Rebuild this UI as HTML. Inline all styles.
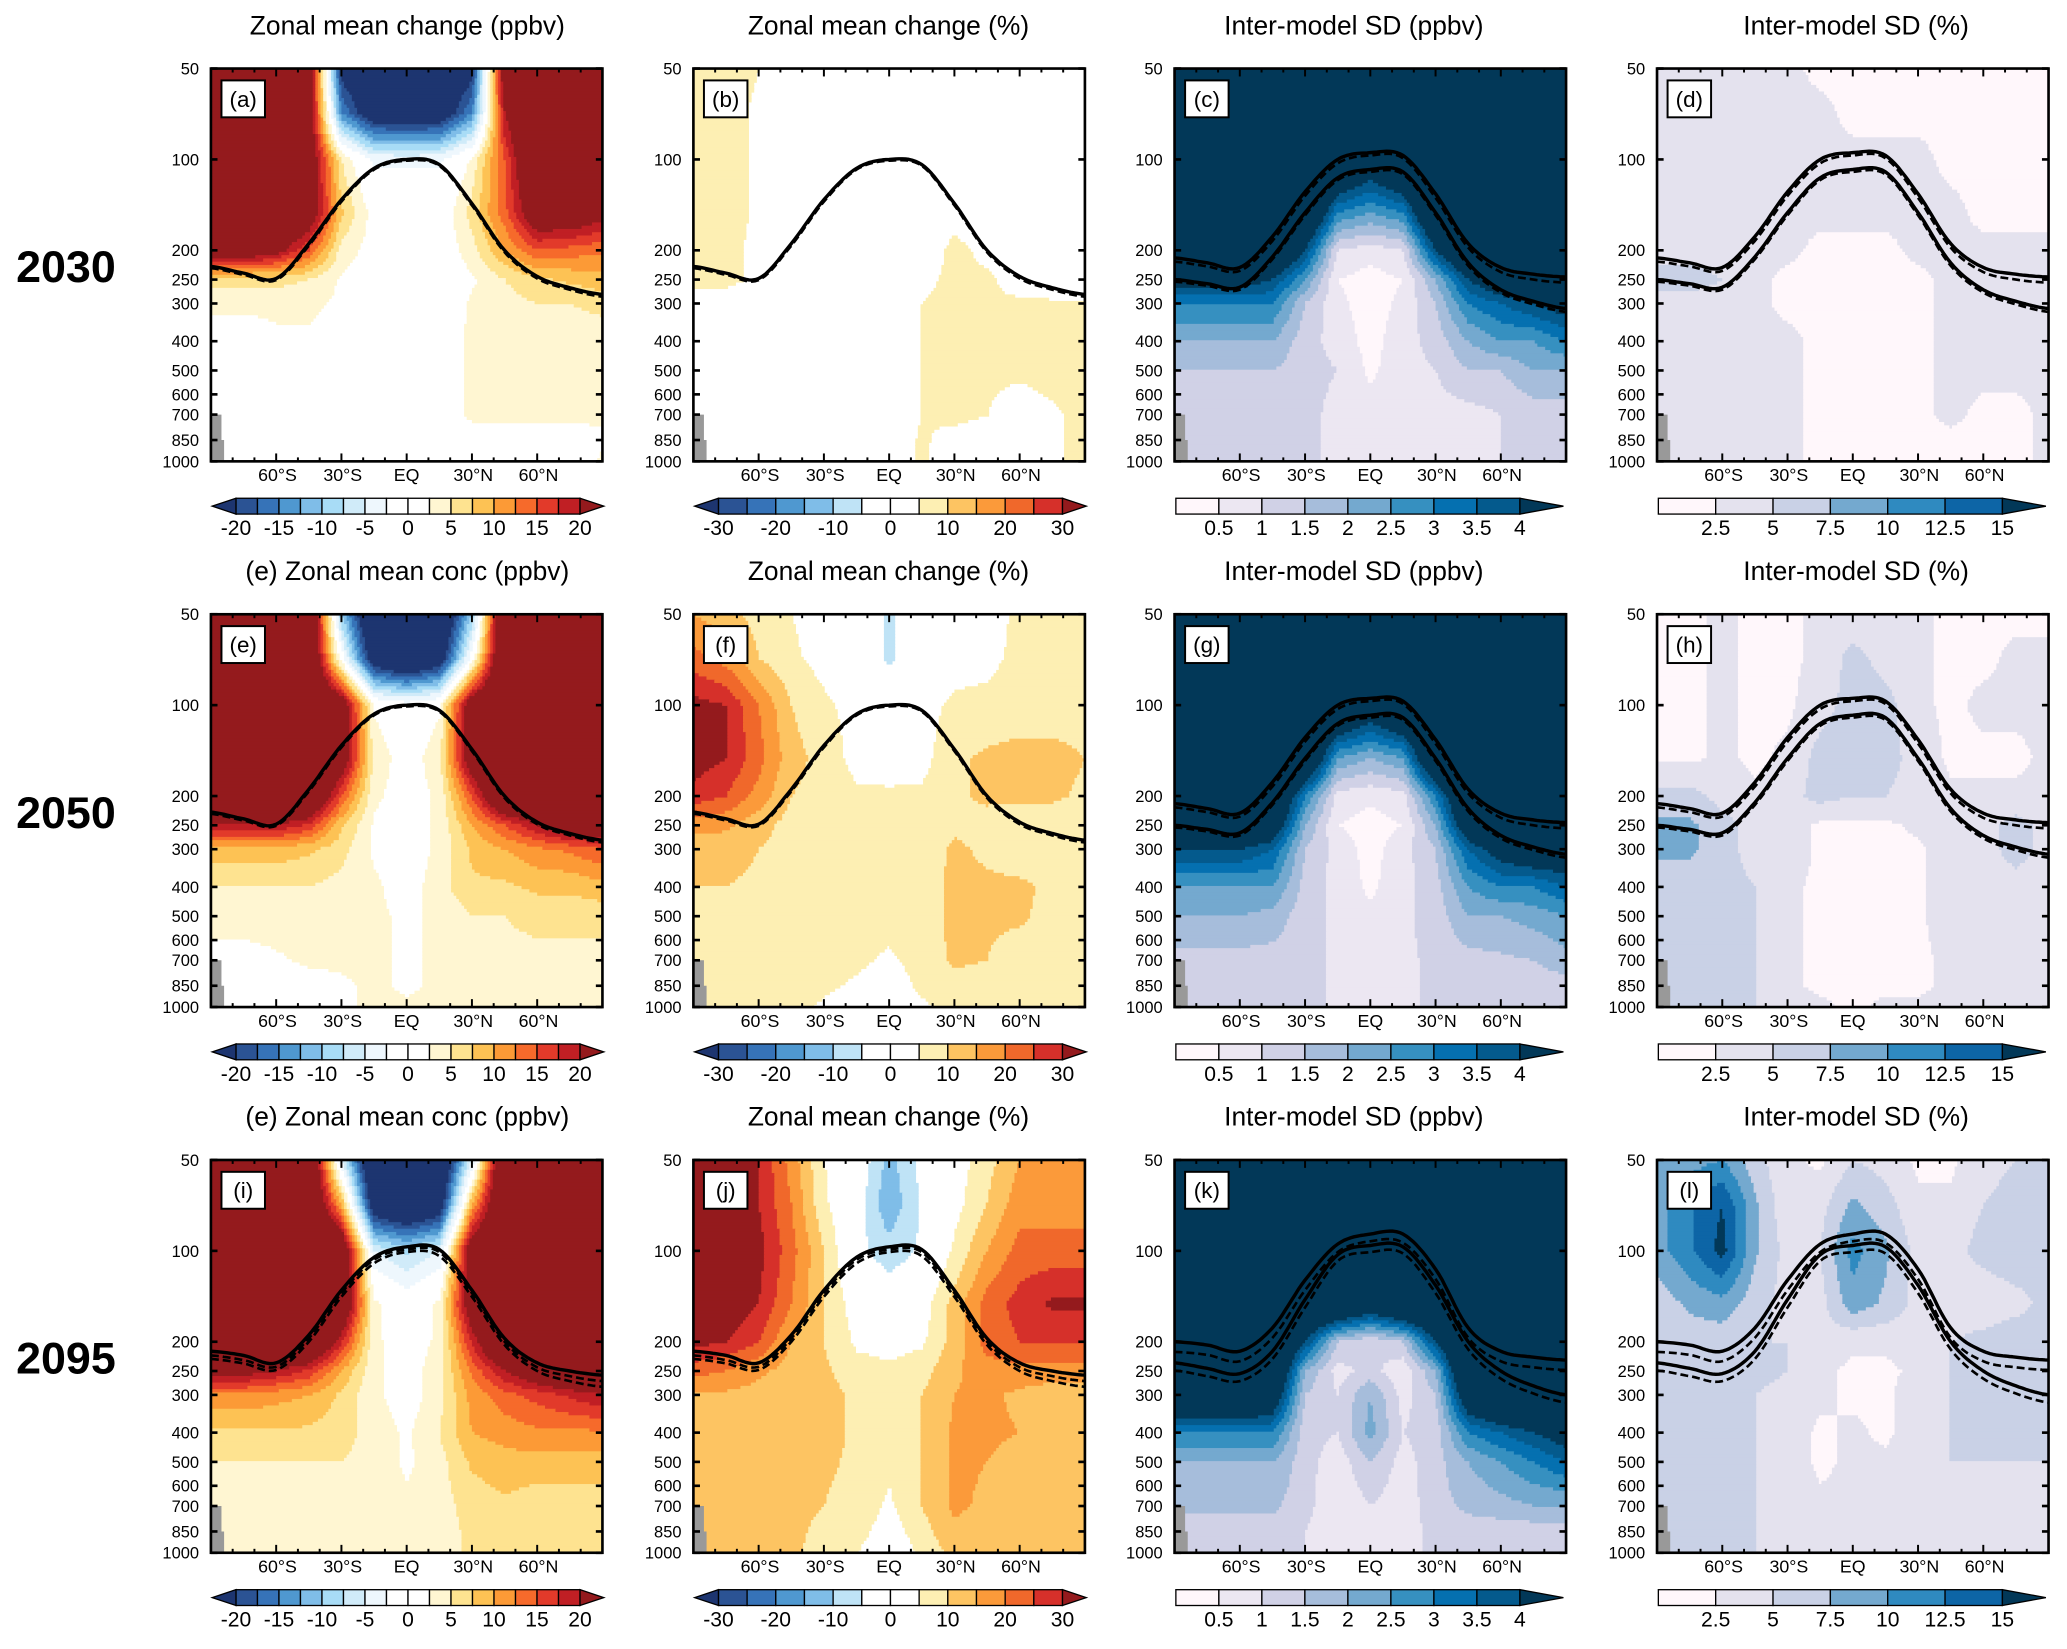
<!DOCTYPE html>
<html><head><meta charset="utf-8"><title>Zonal mean ozone change panels</title>
<style>
html,body{margin:0;padding:0;background:#fff;}
svg{display:block;font-family:"Liberation Sans",Arial,sans-serif;}
</style></head>
<body>
<svg id="fig" width="2067" height="1649" viewBox="0 0 1568 1251" preserveAspectRatio="none" xmlns="http://www.w3.org/2000/svg">
<rect x="0" y="0" width="1568" height="1251" fill="#fff"/>
</svg>
<script>
// ---------- data ----------
const lats = [-90,-75,-60,-45,-30,-15,0,15,30,45,60,75,90];
const levels = [50,70,100,150,200,250,300,400,500,700,850,1000];
const yTickLabels = [50,100,200,250,300,400,500,600,700,850,1000];
const xTickLats = [-60,-30,0,30,60];
const xTickLabels = ['60°S','30°S','EQ','30°N','60°N'];
const years = ['2030','2050','2095'];
const cbTicksPpbv = [-20,-15,-10,-5,0,5,10,15,20];
const cbTicksPct = [-30,-20,-10,0,10,20,30];
const cbTicksSd = [0.5,1,1.5,2,2.5,3,3.5,4];
const cbTicksSdPct = [2.5,5,7.5,10,12.5,15];

const fieldA = [
[30,30,30,25,-22,-28,-28,-28,-22,25,30,30,30],
[30,30,30,25,-15,-25,-26,-25,-15,20,30,30,30],
[30,30,30,25,5,-3,-3,-3,3,15,30,30,30],
[30,30,30,25,8,1,0,0,6,14,25,25,22],
[25,25,22,15,4,1,0,0,4,10,15,14,13],
[6,6,6,5,2,0,0,0,2,5,7,8,9],
[3,3,3,3,2,0,0,0,3,4,5,5,6],
[1,1,2,2,1,0,0,1,3,3,3,3,3],
[0,0,0,0,0,0,0,1,3,3,3,3,3],
[0,0,0,0,0,0,0,1,3,3,3,3,3],
[0,0,0,0,0,0,0,0,1,1,1,1,2],
[0,0,0,0,0,0,0,0,1,0,0,0,3]];
const fieldB = [
[7,7,5,0,0,0,0,0,0,0,0,0,0],
[7,7,4,0,0,0,0,0,0,0,0,0,0],
[7,7,4,0,0,0,0,0,0,0,0,0,0],
[7,7,4,0,0,0,0,0,2,0,0,0,0],
[7,6,4,2,0,0,0,0,7,3,0,0,0],
[6,6,4,3,0,0,0,3,7,6,2,0,0],
[3,3,0,0,0,0,0,5,7,6,6,6,6],
[0,0,0,0,0,0,0,5,7,6,5,7,7],
[0,0,0,0,0,0,0,5,7,6,6,7,7],
[0,0,0,0,0,0,0,5,7,5,2,4,7],
[0,0,0,0,0,0,0,6,2,0,0,4,7],
[0,0,0,0,0,0,0,6,0,0,0,4,7]];
const fieldC = [
[6,6,6,6,6,6,6,6,6,6,6,6,6],
[6,6,6,6,6,6,6,6,6,6,6,6,6],
[6,6,6,6,6,6,5,6,6,6,6,6,6],
[6,6,6,6,6,3,2.5,3,6,6,6,6,6],
[6,6,6,6,4,1,0.7,1,4,6,6,6,6],
[4.5,4.5,4.5,4,2.5,0.5,0.3,0.5,2,4,5,5,5],
[3,3,3,3,1.5,0.6,0.3,0.6,1.5,3,3.5,4,4.5],
[2,2,2,2,1.2,0.8,0.3,0.8,1.2,2,2.5,2.5,3],
[1.5,1.5,1.5,1.5,1.2,1,0.4,0.8,1,1.5,1.5,2,2],
[1.2,1.2,1.2,1.2,1.2,0.8,0.7,0.8,0.8,0.8,1,1.2,1.2],
[1.2,1.2,1.2,1.2,1.2,0.8,0.8,0.7,0.7,0.8,1,1,1.2],
[1.2,1.2,1.2,1.2,1.2,0.8,0.8,0.7,0.7,0.8,1,1,1.2]];
const fieldD = [
[3,3,3,3,3,2,2,2,2,2,2,2,2],
[3,3,3,3,3,3,2,2,2,2,2,2,2],
[3,3,3,3,3,3,3,3,3,2,2,2,2],
[3,3,3,3,3,3,3,3,3,3,2,2,2],
[4,4,4,3,3,2,2,2,3,3,3,3,3],
[6,6,5,3,2,2,2,2,2,3,3,3,3],
[4,4,4,3,2,2,2,2,2,3,3,3,3],
[3,3,3,3,3,2,2,2,2,3,3,3,3],
[3,3,3,3,3,2,2,2,2,3,3,3,3],
[3,3,3,3,3,2,2,2,2,3,2,2,3],
[3,3,3,3,3,2,2,2,2,2,2,2,3],
[3,3,3,3,3,2,2,2,2,2,2,2,3]];
const fieldE = [
[30,30,30,30,-10,-30,-30,-30,-10,30,30,30,30],
[30,30,30,30,0,-25,-30,-25,0,30,30,30,30],
[30,30,30,30,25,2,0,2,25,30,30,30,30],
[30,30,30,30,25,4,1,4,25,30,30,30,30],
[30,30,30,30,15,3,1,3,15,30,30,30,30],
[20,20,20,17,8,2,1,3,10,15,20,25,25],
[9,9,9,8,6,2,1,3,8,10,12,13,15],
[5,5,5,5,4,3,1,4,7,7,8,8,9],
[4,4,4,4,4,3,2,3,5,5,6,6,6],
[1,1,2,3,3,3,2,3,4,4,4,4,4],
[0,0,0,1,2,3,2,3,3,3,3,3,3],
[0,0,0,1,2,3,3,3,3,3,3,3,3]];
const fieldF = [
[15,12,8,5,2,0,-6,0,3,3,6,6,6],
[22,18,10,6,3,0,-6,0,3,4,6,6,6],
[32,30,20,10,6,3,2,3,6,6,7,7,7],
[33,30,22,12,8,3,2,3,9,11,12,12,10],
[28,25,18,10,8,6,6,6,9,11,11,11,9],
[17,16,12,8,7,7,7,7,9,8,7,7,7],
[12,12,10,8,7,7,7,7,11,9,7,7,7],
[10,10,9,7,7,7,7,8,11,11,11,9,7],
[7,7,7,7,7,7,7,8,11,11,11,8,7],
[7,7,7,7,7,6,4,7,11,10,7,7,7],
[7,7,7,7,6,4,2,6,8,7,7,7,7],
[7,7,7,7,4,2,0,4,7,7,7,7,7]];
const fieldG = [
[6,6,6,6,6,6,6,6,6,6,6,6,6],
[6,6,6,6,6,6,6,6,6,6,6,6,6],
[6,6,6,6,6,6,5,6,6,6,6,6,6],
[6,6,6,6,6,2.5,2,2.5,6,6,6,6,6],
[6,6,6,6,3,0.8,0.6,0.8,3,6,6,6,6],
[6,6,6,5,2,0.5,0.3,0.5,2,5,6,6,6],
[4,4,4,3.5,1.5,0.8,0.3,0.8,1.5,3.5,4.5,5,5],
[2.5,2.5,2.5,2.5,1.3,0.8,0.4,0.8,1.3,2.5,3,3,3.5],
[2,2,2,1.8,1.2,0.9,0.6,0.9,1.2,2,2,2.2,2.5],
[1.3,1.3,1.3,1.3,1.2,0.9,0.8,0.9,1.1,1.3,1.4,1.5,1.8],
[1.3,1.3,1.3,1.3,1.2,0.9,0.8,0.9,1.1,1.2,1.2,1.2,1.3],
[1.3,1.3,1.3,1.3,1.2,0.9,0.8,0.9,1.1,1.2,1.2,1.2,1.3]];
const fieldH = [
[2,2,3,2,2,3,3,3,3,2,2,2,2],
[2,2,3,2,2,3,6,4,3,2,2,3,3],
[2,2,3,2,2,4,6,6,3,2,3,3,3],
[2,2,3,2,3,6,7,6,4,2,2,2,3],
[6,6,4,3,4,6,5,5,4,3,3,3,3],
[8,8,6,4,4,2,2,2,3,4,4,6,4],
[8,8,6,4,4,2,2,2,2,4,4,6,4],
[6,6,6,5,3,2,2,2,2,4,4,4,4],
[6,6,6,5,3,2,2,2,2,4,4,4,4],
[6,6,6,5,3,2,2,2,2,3,3,3,3],
[5,5,5,5,3,2,2,2,2,3,3,3,3],
[5,5,5,5,4,3,2,3,3,3,3,3,3]];
const fieldI = [
[30,30,30,30,-5,-30,-30,-30,-5,30,30,30,30],
[30,30,30,30,10,-25,-30,-25,10,30,30,30,30],
[30,30,30,30,28,-5,-8,-5,25,30,30,30,30],
[30,30,30,30,28,3,0,3,25,30,30,30,30],
[30,30,30,30,18,3,1,3,18,30,30,30,30],
[22,22,20,17,10,3,1,4,13,20,25,28,30],
[12,12,11,10,7,3,1,4,11,14,16,18,20],
[7,7,7,7,6,4,2,5,10,11,12,12,12],
[5,5,5,5,5,4,2,4,8,9,9,9,9],
[4,4,4,4,4,4,3,4,6,7,6,6,6],
[3.5,3.5,3.5,3.5,4,4,3,4,5.5,6,6,6,6],
[3.5,3.5,3.5,3.5,4,4,3,4,5.5,6,6,6,6]];
const fieldJ = [
[35,35,30,18,5,0,-12,-3,2,8,15,15,15],
[35,35,30,20,6,-2,-14,-4,3,10,18,18,18],
[35,35,32,22,10,-3,-8,-4,6,15,22,22,22],
[35,35,30,20,10,2,0,2,12,22,27,31,31],
[32,30,25,15,10,4,3,4,12,22,25,25,25],
[22,20,16,13,11,7,6,8,14,18,18,18,18],
[14,14,13,12,12,9,8,10,15,16,14,12,12],
[13,13,13,12,12,9,7,10,16,16,15,13,12],
[12,12,12,12,11,9,6,10,16,15,13,12,12],
[11,11,11,11,10,8,4,10,16,14,12,12,12],
[11,11,11,11,9,7,2,8,14,12,11,11,11],
[11,11,11,11,8,5,0,6,12,11,11,11,11]];
const fieldK = [
[6,6,6,6,6,6,6,6,6,6,6,6,6],
[6,6,6,6,6,6,6,6,6,6,6,6,6],
[6,6,6,6,6,6,6,6,6,6,6,6,6],
[6,6,6,6,6,6,5,6,6,6,6,6,6],
[6,6,6,6,4,1.5,1,1.5,4,6,6,6,6],
[6,6,6,6,2,0.8,1.2,0.6,2,6,6,6,6],
[6,6,6,5,1.5,1,2,0.8,1.5,5,6,6,6],
[3,3,3,3,1.2,1,2.2,1,1.2,3,3.5,4,4.5],
[2,2,2,2,1.2,0.7,1.5,0.8,1.3,2,2.5,3,3.5],
[1.6,1.6,1.6,1.6,1.2,0.5,1,0.7,1.3,1.6,1.8,2,2],
[1.3,1.3,1.3,1.3,1,0.5,0.8,0.7,1.2,1.3,1.2,1.2,1.3],
[1.3,1.3,1.3,1.3,1,0.5,0.8,0.7,1.2,1.3,1.2,1.2,1.3]];
const fieldL = [
[8,9,10,6,3,2,5,4,2,2,4,5,5],
[9,12,15,8,3,4,8,6,3,3,5,6,6],
[9,12,16,8,4,5,11,8,4,4,6,7,5],
[6,8,9,6,4,4,9,7,4,3,3,4,6],
[6,6,6,5,5,4,3,3,4,5,6,7,6],
[7,7,7,6,5,3,2,2,3,5,6,7,7],
[6,6,6,5,4,3,2,2,4,5,5,5,5],
[5,5,5,5,4,2,3,2,4,5,5,5,5],
[5,5,5,5,4,2,3,3,4,5,5,5,5],
[5,5,5,5,4,3,3,3,4,4,4,4,4],
[5,5,5,5,4,4,3,4,4,4,4,4,4],
[5,5,5,5,4,4,3,4,4,4,4,4,4]];

// tropopause pressures (hPa) at each latitude in lats
const tropoMain = [226,238,248,190,136,107,100,104,140,200,244,266,280];
const tropoMainDash = [229,241,251,193,138,108,101,105,142,203,248,270,285];
const tropoUpper = [212,220,228,180,128,100,95,97,130,190,228,240,245];
const tropoUpperDash = [218,226,234,186,132,103,97,99,134,196,236,250,256];
const tropoLower = [250,258,265,210,150,115,108,110,150,220,270,295,312];
const tropoLowerDash = [254,262,270,214,153,117,110,112,153,225,276,302,320];
const tropoI1 = [215,222,235,190,135,105,97,99,135,195,235,250,258];
const tropoI2 = [228,236,248,200,142,110,101,104,142,205,250,270,282];
const tropoI3 = [222,230,242,195,138,107,99,101,138,200,243,260,270];
const tropoK1 = [200,205,215,180,125,95,88,88,115,180,215,225,230];
const tropoK1Dash = [216,221,232,194,135,101,93,94,124,194,232,243,248];
const tropoK2 = [235,245,255,215,145,103,96,97,130,200,250,280,300];
const tropoK2Dash = [249,260,270,228,154,108,101,102,138,212,265,297,318];

// colour scales
const colPpbv = ['#1d3570','#2b5394','#3673b8','#4f98d0','#7fbde8','#a8dcf6','#d0ebf9','#eef7fd','#ffffff','#ffffff','#fff6d2','#fee390','#fdc254','#fc9a36','#f66a2b','#e23a2a','#c01f24','#941a1d'];
const thrPpbv = [-20,-17.5,-15,-12.5,-10,-7.5,-5,-2.5,0,2.5,5,7.5,10,12.5,15,17.5,20];
const colPct = ['#1d3570','#2b5394','#3673b8','#4f98d0','#7fbde8','#bfe3f6','#ffffff','#ffffff','#fdefb3','#fdc462','#fb9a3a','#f0682b','#d6302a','#941a1d'];
const thrPct = [-30,-25,-20,-15,-10,-5,0,5,10,15,20,25,30];
const colSd = ['#fff7fb','#ece7f2','#d0d1e6','#a6bddb','#74a9cf','#3690c0','#0570b0','#045a8d','#023858'];
const thrSd = [0.5,1,1.5,2,2.5,3,3.5,4];
const colSdPct = ['#fff7fb','#e4e2ee','#c9d1e6','#74a9cf','#2f8ac0','#0d65a6','#023858'];
const thrSdPct = [2.5,5,7.5,10,12.5,15];

// ---------- layout ----------
const colX = [160,526,891,1257];
const rowY = [52,466,880];
const PW = 297, PH = 298;
const NS = 'http://www.w3.org/2000/svg';
const svg = document.getElementById('fig');

function el(tag, attrs, parent){
  const e = document.createElementNS(NS, tag);
  for (const k in attrs) e.setAttribute(k, attrs[k]);
  (parent||svg).appendChild(e);
  return e;
}
function txt(s, x, y, size, anchor, parent, weight){
  const t = el('text', {x:x, y:y, 'font-size':size, 'text-anchor':anchor||'middle', fill:'#000'}, parent);
  if (weight) t.setAttribute('font-weight', weight);
  t.textContent = s;
  return t;
}
const L20 = Math.log(20);
function px(x0, lat){ return x0 + (lat+90)/180*PW; }
function py(y0, p){ return y0 + Math.log(p/50)/L20*PH; }
const logLev = levels.map(p=>Math.log(p));

function sample(field, lat, p){
  let fj = (lat+90)/15; fj = Math.max(0, Math.min(12-1e-9, fj));
  const j = Math.floor(fj), tj = fj-j;
  const lp = Math.log(p);
  let i = 0; while (i < levels.length-2 && lp > logLev[i+1]) i++;
  let ti = (lp-logLev[i])/(logLev[i+1]-logLev[i]); ti = Math.max(0, Math.min(1, ti));
  const a = field[i][j]*(1-tj) + field[i][j+1]*tj;
  const b = field[i+1][j]*(1-tj) + field[i+1][j+1]*tj;
  return a*(1-ti) + b*ti;
}
function binIndex(v, thr){ let k=0; while (k<thr.length && v>=thr[k]-1e-9) k++; return k; }

function curve(x0, y0, arr){
  const pts = [];
  const lp = arr.map(p=>Math.log(p));
  for (let s=0; s<lats.length-1; s++){
    const p0 = lp[Math.max(0,s-1)], p1 = lp[s], p2 = lp[s+1], p3 = lp[Math.min(lats.length-1,s+2)];
    for (let k=0; k<10; k++){
      const t = k/10, t2=t*t, t3=t2*t;
      const v = 0.5*((2*p1)+(-p0+p2)*t+(2*p0-5*p1+4*p2-p3)*t2+(-p0+3*p1-3*p2+p3)*t3);
      pts.push([px(x0, lats[s]+15*t), py(y0, Math.exp(v))]);
    }
  }
  pts.push([px(x0, 90), py(y0, arr[arr.length-1])]);
  return 'M' + pts.map(q=>q[0].toFixed(1)+','+q[1].toFixed(1)).join('L');
}

const scales = {
  ppbv:{col:colPpbv, thr:thrPpbv, ticks:cbTicksPpbv, arrowsL:true},
  pct:{col:colPct, thr:thrPct, ticks:cbTicksPct, arrowsL:true},
  sd:{col:colSd, thr:thrSd, ticks:cbTicksSd, arrowsL:false},
  sdpct:{col:colSdPct, thr:thrSdPct, ticks:cbTicksSdPct, arrowsL:false}
};

const panels = [
 {id:'a', r:0, c:0, f:fieldA, s:'ppbv', lines:[[tropoMain,0],[tropoMainDash,1]]},
 {id:'b', r:0, c:1, f:fieldB, s:'pct', lines:[[tropoMain,0],[tropoMainDash,1]]},
 {id:'c', r:0, c:2, f:fieldC, s:'sd', lines:[[tropoUpper,0],[tropoUpperDash,1],[tropoLower,0],[tropoLowerDash,1]]},
 {id:'d', r:0, c:3, f:fieldD, s:'sdpct', lines:[[tropoUpper,0],[tropoUpperDash,1],[tropoLower,0],[tropoLowerDash,1]]},
 {id:'e', r:1, c:0, f:fieldE, s:'ppbv', lines:[[tropoMain,0],[tropoMainDash,1]]},
 {id:'f', r:1, c:1, f:fieldF, s:'pct', lines:[[tropoMain,0],[tropoMainDash,1]]},
 {id:'g', r:1, c:2, f:fieldG, s:'sd', lines:[[tropoUpper,0],[tropoUpperDash,1],[tropoLower,0],[tropoLowerDash,1]]},
 {id:'h', r:1, c:3, f:fieldH, s:'sdpct', lines:[[tropoUpper,0],[tropoUpperDash,1],[tropoLower,0],[tropoLowerDash,1]]},
 {id:'i', r:2, c:0, f:fieldI, s:'ppbv', lines:[[tropoI1,0],[tropoI3,1],[tropoI2,1]]},
 {id:'j', r:2, c:1, f:fieldJ, s:'pct', lines:[[tropoI1,0],[tropoI3,1],[tropoI2,1]]},
 {id:'k', r:2, c:2, f:fieldK, s:'sd', lines:[[tropoK1,0],[tropoK1Dash,1],[tropoK2,0],[tropoK2Dash,1]]},
 {id:'l', r:2, c:3, f:fieldL, s:'sdpct', lines:[[tropoK1,0],[tropoK1Dash,1],[tropoK2,0],[tropoK2Dash,1]]}
];
const titles = [
 ['Zonal mean change (ppbv)','Zonal mean change (%)','Inter-model SD (ppbv)','Inter-model SD (%)'],
 ['(e) Zonal mean conc (ppbv)','Zonal mean change (%)','Inter-model SD (ppbv)','Inter-model SD (%)'],
 ['(e) Zonal mean conc (ppbv)','Zonal mean change (%)','Inter-model SD (ppbv)','Inter-model SD (%)']
];
const titleX = [309,674,1027,1408];

years.forEach((y,r)=>{
  const t = txt(y, 50, rowY[r]+162, 34, 'middle', svg, 'bold');
  
  
});

const NX = 150, NY = 120;
panels.forEach(P=>{
  const x0 = colX[P.c], y0 = rowY[P.r];
  const sc = scales[P.s];
  const g = el('g', {});
  
  

  const tt = txt(titles[P.r][P.c], titleX[P.c], y0-26, 20, 'middle', g);
  
  

  const fg = el('g', {}, g);
  
  
  const dy = PH/NY, dx = PW/NX;
  for (let r=0; r<NY; r++){
    const yc = y0 + (r+0.5)*dy;
    const p = 50*Math.exp((yc-y0)/PH*L20);
    let start = 0, cur = -1;
    for (let c=0; c<=NX; c++){
      let idx = -2;
      if (c<NX){
        const lat = -90 + (c+0.5)/NX*180;
        idx = binIndex(sample(P.f, lat, p), sc.thr);
      }
      if (idx !== cur){
        if (cur >= 0 && sc.col[cur] !== '#ffffff'){
          const rc = el('rect', {x:(x0+start*dx).toFixed(2), y:(y0+r*dy).toFixed(2), width:((c-start)*dx+0.6).toFixed(2), height:(dy+0.9).toFixed(2), fill:sc.col[cur]}, fg);
          
          
        }
        cur = idx; start = c;
      }
    }
  }
  const gr = el('path', {d:'M'+x0+','+py(y0,700)+'H'+(x0+8)+'V'+py(y0,850)+'H'+(x0+10)+'V'+(y0+PH)+'H'+x0+'Z', fill:'#999'}, g);
  
  

  P.lines.forEach((L,k)=>{
    const pth = el('path', {d:curve(x0,y0,L[0]), fill:'none', stroke:'#000', 'stroke-width':L[1]?2:2.6, 'stroke-dasharray':L[1]?'6,3':'none', 'stroke-linejoin':'round'}, g);
    
    
  });

  const fr = el('rect', {x:x0, y:y0, width:PW, height:PH, fill:'none', stroke:'#000', 'stroke-width':2}, g);
  
  

  for (let lat=-80; lat<=80; lat+=10){
    const X = px(x0, lat), major = (lat%30===0);
    const len = major?6:3;
    el('line', {x1:X, y1:y0+PH, x2:X, y2:y0+PH-len, stroke:'#000', 'stroke-width':1.5}, g);
    el('line', {x1:X, y1:y0, x2:X, y2:y0+len, stroke:'#000', 'stroke-width':1.5}, g);
  }
  xTickLats.forEach((lat,k)=>{
    const t = txt(xTickLabels[k], px(x0,lat)+(lat===0?0:1), y0+PH+15, 13.5, 'middle', g);
    
    
  });
  yTickLabels.forEach(p=>{
    const Y = py(y0, p);
    el('line', {x1:x0, y1:Y, x2:x0+5, y2:Y, stroke:'#000', 'stroke-width':2}, g);
    el('line', {x1:x0+PW, y1:Y, x2:x0+PW-5, y2:Y, stroke:'#000', 'stroke-width':2}, g);
    const t = txt(String(p), x0-9, Y+4.5, 12.5, 'end', g);
    
    
  });
  const lb = el('rect', {x:x0+8, y:y0+9, width:33, height:28, fill:'#fff', stroke:'#000', 'stroke-width':1.5}, g);
  
  
  const lt = txt('('+P.id+')', x0+24.5, y0+29, 17, 'middle', g);
  
  

  // colorbar
  const cb = el('g', {}, g);
  
  
  const cy = y0 + PH + 28, ch = 12;
  let bx0, bx1, nBox, firstCol;
  if (sc.arrowsL){ bx0 = x0+19; bx1 = x0+280; nBox = sc.thr.length-1; firstCol = 1; }
  else { bx0 = x0+1; bx1 = x0+262; nBox = sc.thr.length; firstCol = 0; }
  const bw = (bx1-bx0)/nBox;
  for (let k=0; k<nBox; k++){
    const b = el('rect', {x:bx0+k*bw, y:cy, width:bw, height:ch, fill:sc.col[k+firstCol], stroke:'#000', 'stroke-width':1}, cb);
    
    
  }
  if (sc.arrowsL){
    const al = el('path', {d:'M'+bx0+','+cy+'L'+(bx0-18)+','+(cy+ch/2)+'L'+bx0+','+(cy+ch)+'Z', fill:sc.col[0], stroke:'#000', 'stroke-width':1}, cb);
    
    
  }
  const ar = el('path', {d:'M'+bx1+','+cy+'L'+(bx1+(sc.arrowsL?18:33))+','+(cy+ch/2)+'L'+bx1+','+(cy+ch)+'Z', fill:sc.col[sc.col.length-1], stroke:'#000', 'stroke-width':1}, cb);
  
  
  sc.ticks.forEach(v=>{
    const k = sc.thr.indexOf(v) + (sc.arrowsL?0:1);
    const X = bx0 + k*bw;
    const t = txt(String(v), X, cy+ch+16, 16, 'middle', cb);
    
    
  });
});
</script>
</body></html>
